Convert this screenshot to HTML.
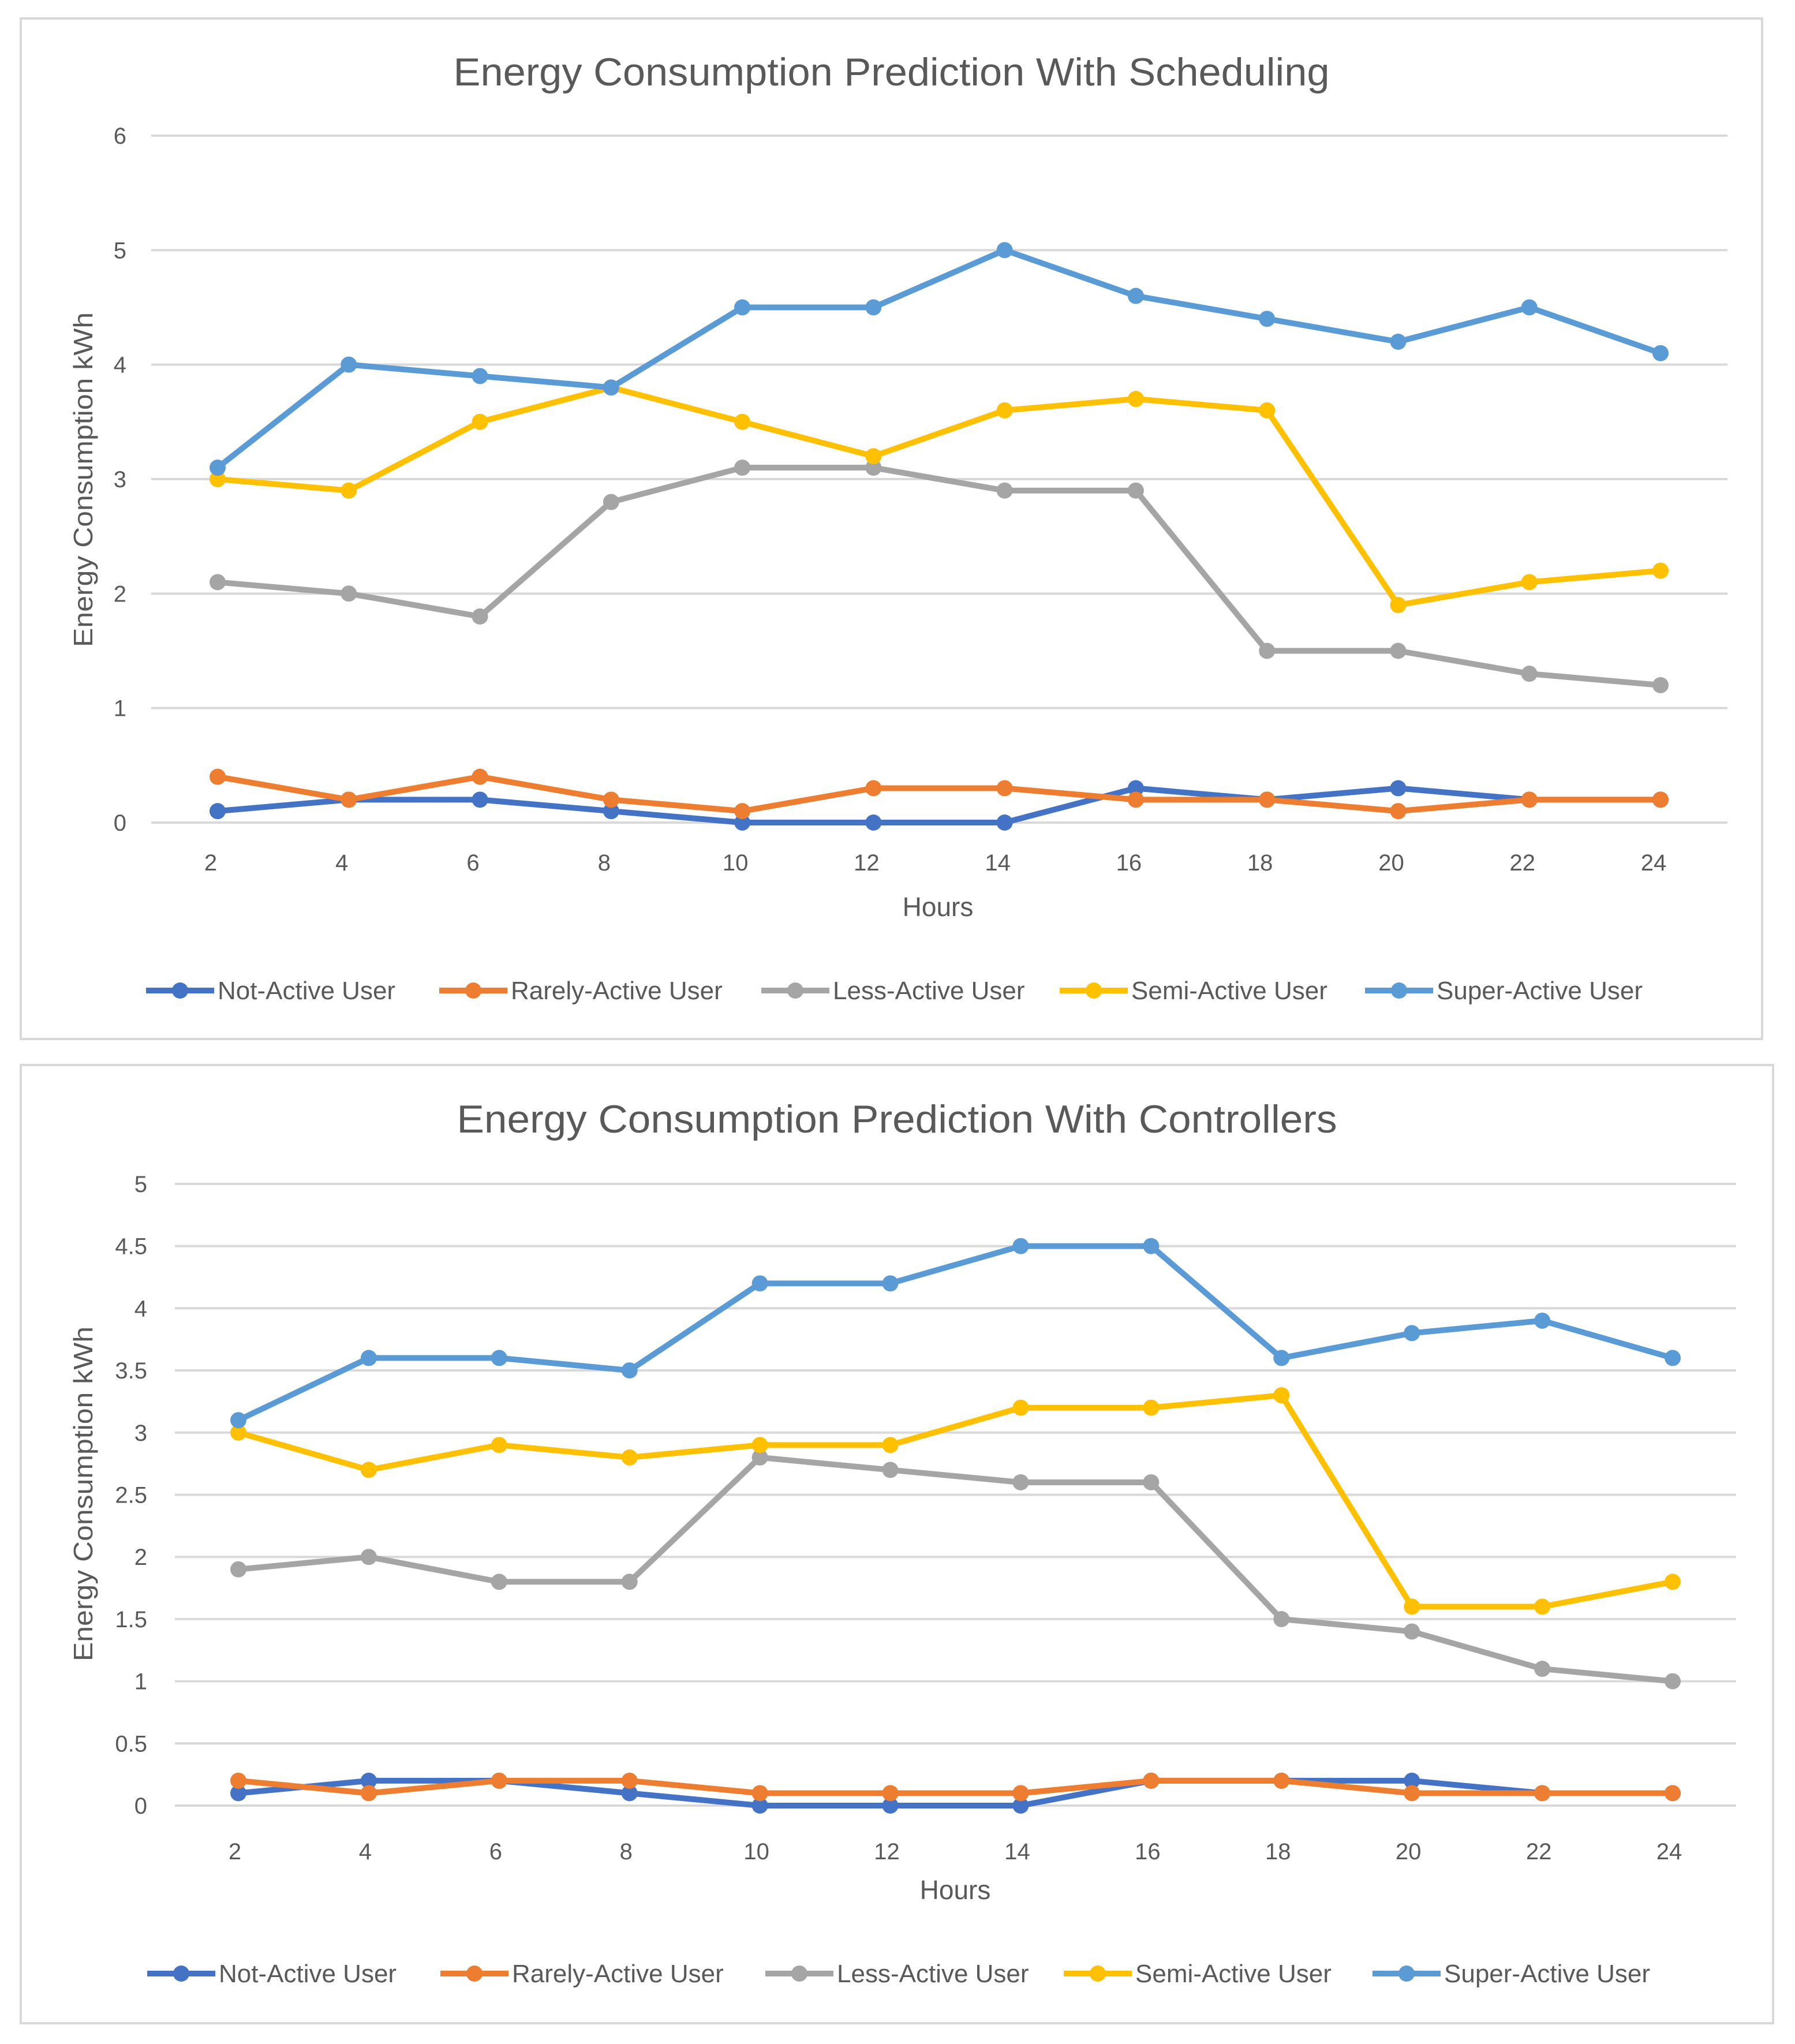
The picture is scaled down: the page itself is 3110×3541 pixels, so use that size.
<!DOCTYPE html>
<html><head><meta charset="utf-8"><style>
html,body{margin:0;padding:0;background:#fff;}
svg{display:block;font-family:"Liberation Sans",sans-serif;}
</style></head><body>
<svg id="s" width="3110" height="3541" viewBox="0 0 3110 3541" xmlns="http://www.w3.org/2000/svg"></svg>
<script>
const categories = [2,4,6,8,10,12,14,16,18,20,22,24];
const seriesNames = ["Not-Active User","Rarely-Active User","Less-Active User","Semi-Active User","Super-Active User"];
const seriesColors = ["#4472C4","#ED7D31","#A5A5A5","#FFC000","#5B9BD5"];
const schedNot = [0.1,0.2,0.2,0.1,0,0,0,0.3,0.2,0.3,0.2,0.2];
const schedRarely = [0.4,0.2,0.4,0.2,0.1,0.3,0.3,0.2,0.2,0.1,0.2,0.2];
const schedLess = [2.1,2,1.8,2.8,3.1,3.1,2.9,2.9,1.5,1.5,1.3,1.2];
const schedSemi = [3,2.9,3.5,3.8,3.5,3.2,3.6,3.7,3.6,1.9,2.1,2.2];
const schedSuper = [3.1,4,3.9,3.8,4.5,4.5,5,4.6,4.4,4.2,4.5,4.1];
const ctrlNot = [0.1,0.2,0.2,0.1,0,0,0,0.2,0.2,0.2,0.1,0.1];
const ctrlRarely = [0.2,0.1,0.2,0.2,0.1,0.1,0.1,0.2,0.2,0.1,0.1,0.1];
const ctrlLess = [1.9,2,1.8,1.8,2.8,2.7,2.6,2.6,1.5,1.4,1.1,1.0];
const ctrlSemi = [3,2.7,2.9,2.8,2.9,2.9,3.2,3.2,3.3,1.6,1.6,1.8];
const ctrlSuper = [3.1,3.6,3.6,3.5,4.2,4.2,4.5,4.5,3.6,3.8,3.9,3.6];
const schedTicks = ["0","1","2","3","4","5","6"];
const ctrlTicks = ["0","0.5","1","1.5","2","2.5","3","3.5","4","4.5","5"];

const NS="http://www.w3.org/2000/svg";
const svg=document.getElementById('s');
function mk(tag,attrs,parent){const e=document.createElementNS(NS,tag);for(const k in attrs)e.setAttribute(k,attrs[k]);(parent||svg).appendChild(e);return e;}

function chart(cfg){
  const g=mk('g',{});
  
  
  const fr=mk('rect',{x:cfg.fx,y:cfg.fy,width:cfg.fw,height:cfg.fh,fill:'#fff',stroke:'#d9d9d9','stroke-width':4},g);
  
  
  const t=mk('text',{x:cfg.fx+cfg.fw/2,y:cfg.titleY,'text-anchor':'middle','font-size':68,fill:'#595959',textLength:cfg.titleLen,lengthAdjust:'spacingAndGlyphs'},g);
  t.textContent=cfg.title;
  
  
  const ymax=cfg.ymax;
  const yS=v=>cfg.y0+(cfg.yTop-cfg.y0)*v/ymax;
  const xS=i=>cfg.xFirst+(cfg.xLast-cfg.xFirst)*i/(categories.length-1);
  cfg.ticks.forEach(lbl=>{
    const v=parseFloat(lbl);const y=yS(v);
    const gl=mk('line',{x1:cfg.pl,x2:cfg.pr,y1:y,y2:y,stroke:'#d9d9d9','stroke-width':4},g);
    
    
    const tl=mk('text',{x:cfg.tickX,y:y+14,'text-anchor':'end','font-size':40,fill:'#595959'},g);
    tl.textContent=lbl;
    
    
  });
  categories.forEach((c,i)=>{
    const tl=mk('text',{x:xS(i)-cfg.lblOff,y:cfg.xLblY,'text-anchor':'middle','font-size':40,fill:'#595959'},g);
    tl.textContent=c;
    
    
  });
  const xt=mk('text',{x:cfg.hoursX,y:cfg.hoursY,'text-anchor':'middle','font-size':46,fill:'#595959'},g);
  xt.textContent='Hours';
  
  
  const yt=mk('text',{x:0,y:0,'text-anchor':'middle','font-size':46,fill:'#595959',textLength:580,lengthAdjust:'spacingAndGlyphs',transform:`translate(${cfg.yTitleX},${cfg.yTitleY}) rotate(-90)`},g);
  yt.textContent='Energy Consumption kWh';
  
  
  cfg.data.forEach((arr,si)=>{
    const col=seriesColors[si];
    const pts=arr.map((v,i)=>xS(i)+','+yS(v)).join(' ');
    const pl=mk('polyline',{points:pts,fill:'none',stroke:col,'stroke-width':10,'stroke-linejoin':'round'},g);
    
    
    arr.forEach((v,i)=>{
      const c=mk('circle',{cx:xS(i),cy:yS(v),r:14,fill:col},g);
      
      
    });
  });
  seriesNames.forEach((n,si)=>{
    const lx=cfg.legLine[si],ly=cfg.legY;
    const lg=mk('g',{},g);
    
    
    mk('line',{x1:lx,x2:lx+118,y1:ly,y2:ly,stroke:seriesColors[si],'stroke-width':10},lg);
    mk('circle',{cx:lx+59,cy:ly,r:14,fill:seriesColors[si]},lg);
    const tx=mk('text',{x:lx+124,y:ly+15,'font-size':44,fill:'#595959'},lg);
    tx.textContent=n;
  });
}
chart({name:'scheduling-chart',fx:36,fy:32,fw:3017,fh:1768,title:'Energy Consumption  Prediction With Scheduling',titleY:148,titleLen:1518,
  ymax:6,y0:1425,yTop:235,pl:262,pr:2993,xFirst:377,xLast:2877,tickX:219,lblOff:12,xLblY:1508,hoursX:1625,hoursY:1587,
  yTitleX:160,yTitleY:831,data:[schedNot,schedRarely,schedLess,schedSemi,schedSuper],ticks:schedTicks,
  legY:1716,legLine:[253,761,1319,1836,2365]});
chart({name:'controllers-chart',fx:36,fy:1845,fw:3036,fh:1660,title:'Energy Consumption  Prediction With Controllers',titleY:1962,titleLen:1525,
  ymax:5,y0:3128,yTop:2051,pl:303,pr:3008,xFirst:413,xLast:2898,tickX:255,lblOff:6,xLblY:3221,hoursX:1655,hoursY:3290,
  yTitleX:160,yTitleY:2588,data:[ctrlNot,ctrlRarely,ctrlLess,ctrlSemi,ctrlSuper],ticks:ctrlTicks,
  legY:3419,legLine:[255,763,1326,1843,2378]});
</script>
</body></html>
